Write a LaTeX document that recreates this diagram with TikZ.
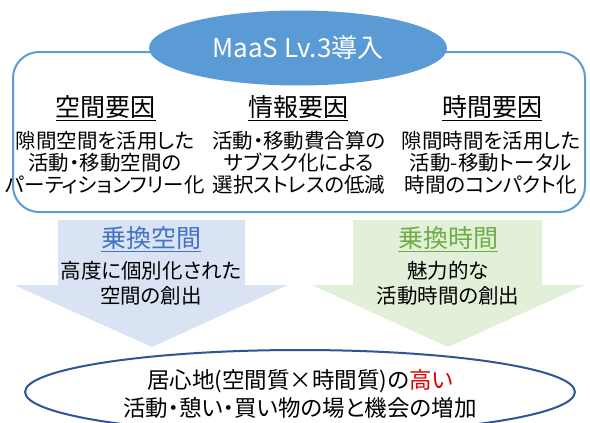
\documentclass[tikz,border=0pt]{standalone}
\usepackage{fontspec}
\setmainfont{Noto Sans CJK JP}[RawFeature=+palt]
\usetikzlibrary{shapes.geometric}
\definecolor{mblue}{HTML}{5B9BD5}
\definecolor{dblue}{HTML}{2F5597}
\definecolor{lblue}{HTML}{DAE3F3}
\definecolor{lgreen}{HTML}{E2F0D9}
\definecolor{tblue}{HTML}{4472C4}
\definecolor{tgreen}{HTML}{70AD47}
\definecolor{hred}{HTML}{E00000}
\begin{document}
\begin{tikzpicture}[x=1pt,y=-1pt,
  heading/.style={inner sep=0pt, font=\fontsize{25}{27}\selectfont},
  bodytext/.style={inner sep=0pt, align=center, font=\fontsize{20.5}{22}\selectfont},
  arrowtext/.style={inner sep=0pt, align=center, font=\fontsize{20.5}{25}\selectfont},
  uline/.style={line width=0.8pt}]
\useasboundingbox (0,0) rectangle (590,423);
\clip (0,0) rectangle (590,423);
% frame
\draw[mblue, line width=2pt, rounded corners=26pt] (13,52) rectangle (585,212);
\node[ellipse, fill=mblue, minimum width=298pt, minimum height=75pt, inner sep=0pt,
  text=white, font=\fontsize{26}{28}\selectfont] (top) at (298,48) {MaaS Lv.3導入};
% headings
\node[heading] (h1) at (106,107) {空間要因};
\node[heading] (h2) at (298,107) {情報要因};
\node[heading] (h3) at (492,107) {時間要因};
\foreach \h in {h1,h2,h3}
  \draw[uline] ([yshift=-3.5pt]\h.base west) -- ([yshift=-3.5pt]\h.base east);
% bodies
\node[bodytext] (b1) at (105,163) {隙間空間を活用した\\活動・移動空間の\\パーティションフリー化};
\node[bodytext] (b2) at (299,163) {活動・移動費合算の\\サブスク化による\\選択ストレスの低減};
\node[bodytext] (b3) at (491,163) {隙間時間を活用した\\活動-移動トータル\\時間のコンパクト化};
% arrows
\fill[lblue] (58,220) -- (245,220) -- (245,285) -- (288,285) -- (152,347) -- (14,285) -- (58,285) -- cycle;
\fill[lgreen] (353,220) -- (542,220) -- (542,285) -- (585,285) -- (448,347) -- (312,285) -- (353,285) -- cycle;
\node[heading, text=tblue] (a1) at (151,238) {乗換空間};
\draw[uline, tblue] ([yshift=-3.5pt]a1.base west) -- ([yshift=-3.5pt]a1.base east);
\node[arrowtext] (t1) at (151,283) {高度に個別化された\\空間の創出};
\node[heading, text=tgreen] (a2) at (448,238) {乗換時間};
\draw[uline, tgreen] ([yshift=-3.5pt]a2.base west) -- ([yshift=-3.5pt]a2.base east);
\node[arrowtext] (t2) at (448,283) {魅力的な\\活動時間の創出};
% bottom ellipse
\node[ellipse, draw=dblue, fill=white, line width=2pt, minimum width=550pt, minimum height=84pt] (bot) at (300,392) {};
\node[inner sep=0pt, align=center, font=\fontsize{22.5}{28}\selectfont] (bt) at (300,394)
  {居心地(空間質×時間質)の\textcolor{hred}{高い}\\活動・憩い・買い物の場と機会の増加};
\end{tikzpicture}
\end{document}
